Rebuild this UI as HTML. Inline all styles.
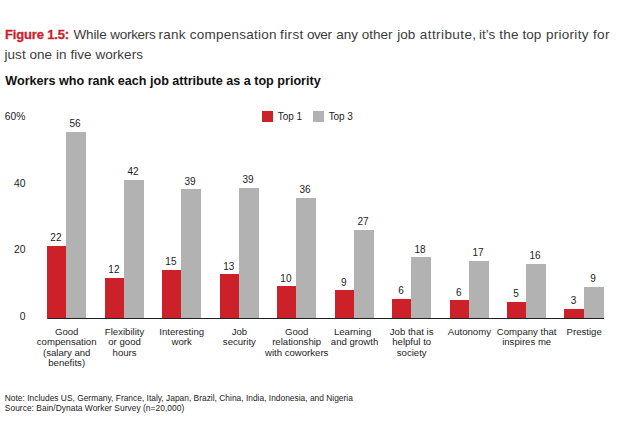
<!DOCTYPE html>
<html><head><meta charset="utf-8"><style>
html,body{margin:0;padding:0;background:#fff}
body{width:620px;height:424px;position:relative;overflow:hidden;font-family:"Liberation Sans",sans-serif;color:#1c1c1c}
div{position:absolute;white-space:nowrap}
.t{left:5px;font-size:13.5px;letter-spacing:0.12px;color:#3b3b3b;line-height:16px}
.t b{color:#cc1f2d;font-size:13px;letter-spacing:-0.16px;-webkit-text-stroke:0.3px #cc1f2d}
.st{left:5.3px;top:73.3px;font-size:12.6px;font-weight:bold;color:#111;line-height:16px}
.y{left:0;width:25.4px;text-align:right;font-size:10.3px;line-height:12px;margin-top:0px}
.v{width:40px;text-align:center;font-size:10px;line-height:12px}
.xl{width:100px;text-align:center;font-size:9.6px;line-height:10.6px;top:326.6px;white-space:nowrap}
.lg{font-size:10px;letter-spacing:-0.08px;line-height:12px;top:110.6px}
.n{left:4.8px;font-size:8.4px;line-height:9.8px;color:#222}
</style></head><body>
<div class="t" style="top:27px"><b>Figure 1.5:</b></div>
<div class="t" style="top:27px;left:73.5px;letter-spacing:-0.137px">While</div>
<div class="t" style="top:27px;left:110.3px;letter-spacing:-0.308px">workers</div>
<div class="t" style="top:27px;left:158.4px;letter-spacing:0.317px">rank</div>
<div class="t" style="top:27px;left:189.8px;letter-spacing:0.25px">compensation</div>
<div class="t" style="top:27px;left:280.05px;letter-spacing:0.375px">first</div>
<div class="t" style="top:27px;left:306.9px;letter-spacing:-0.4px">over</div>
<div class="t" style="top:27px;left:336.2px;letter-spacing:0.0px">any</div>
<div class="t" style="top:27px;left:361.8px;letter-spacing:0.0px">other</div>
<div class="t" style="top:27px;left:397.35px;letter-spacing:-0.025px">job</div>
<div class="t" style="top:27px;left:419.8px;letter-spacing:0.417px">attribute,</div>
<div class="t" style="top:27px;left:479.0px;letter-spacing:0.017px">it’s</div>
<div class="t" style="top:27px;left:499.15px;letter-spacing:0.35px">the</div>
<div class="t" style="top:27px;left:522.55px;letter-spacing:0.0px">top</div>
<div class="t" style="top:27px;left:545.9px;letter-spacing:0.293px">priority</div>
<div class="t" style="top:27px;left:593.05px;letter-spacing:0.325px">for</div>
<div class="t" style="top:46.6px;left:4.5px;letter-spacing:0.05px">just one in five workers</div>
<div class="st">Workers who rank each job attribute as a top priority</div>
<div class="y" style="top:111px">60%</div>
<div class="y" style="top:177.7px">40</div>
<div class="y" style="top:244.3px">20</div>
<div class="y" style="top:311px">0</div>
<div style="left:262.3px;top:111.2px;width:10.8px;height:10.5px;background:#cc2128"></div>
<div class="lg" style="left:277.8px">Top 1</div>
<div style="left:313.3px;top:111.2px;width:10.8px;height:10.5px;background:#b2b2b2"></div>
<div class="lg" style="left:328.7px">Top 3</div>
<div class="b" style="left:47.35px;top:246px;width:18.75px;height:72.50px;background:#cc2128"></div>
<div class="b" style="left:66.10px;top:132px;width:19.95px;height:186.50px;background:#b2b2b2"></div>
<div class="v" style="left:35.92px;top:232.40px">22</div>
<div class="v" style="left:54.97px;top:118.40px">56</div>
<div class="xl" style="left:16.70px">Good<br>compensation<br>(salary and<br>benefits)</div>
<div class="b" style="left:105.20px;top:278px;width:19.00px;height:40.50px;background:#cc2128"></div>
<div class="b" style="left:124.20px;top:180px;width:19.70px;height:138.50px;background:#b2b2b2"></div>
<div class="v" style="left:93.90px;top:264.40px">12</div>
<div class="v" style="left:112.95px;top:166.40px">42</div>
<div class="xl" style="left:74.55px">Flexibility<br>or good<br>hours</div>
<div class="b" style="left:162.35px;top:269.5px;width:18.75px;height:49.00px;background:#cc2128"></div>
<div class="b" style="left:181.10px;top:189.25px;width:19.95px;height:129.25px;background:#b2b2b2"></div>
<div class="v" style="left:150.92px;top:255.90px">15</div>
<div class="v" style="left:169.97px;top:175.65px">39</div>
<div class="xl" style="left:131.70px">Interesting<br>work</div>
<div class="b" style="left:219.85px;top:274.25px;width:19.35px;height:44.25px;background:#cc2128"></div>
<div class="b" style="left:239.20px;top:188px;width:19.70px;height:130.50px;background:#b2b2b2"></div>
<div class="v" style="left:208.72px;top:260.65px">13</div>
<div class="v" style="left:227.95px;top:174.40px">39</div>
<div class="xl" style="left:189.38px">Job<br>security</div>
<div class="b" style="left:277.35px;top:286.25px;width:18.75px;height:32.25px;background:#cc2128"></div>
<div class="b" style="left:296.10px;top:198px;width:19.95px;height:120.50px;background:#b2b2b2"></div>
<div class="v" style="left:265.93px;top:272.65px">10</div>
<div class="v" style="left:284.98px;top:184.40px">36</div>
<div class="xl" style="left:246.70px">Good<br>relationship<br>with coworkers</div>
<div class="b" style="left:335.20px;top:290.25px;width:19.00px;height:28.25px;background:#cc2128"></div>
<div class="b" style="left:354.20px;top:229.5px;width:19.70px;height:89.00px;background:#b2b2b2"></div>
<div class="v" style="left:323.90px;top:276.65px">9</div>
<div class="v" style="left:342.95px;top:215.90px">27</div>
<div class="xl" style="left:304.55px"><span style='position:relative;left:-2px'>Learning</span><br>and growth</div>
<div class="b" style="left:392.35px;top:299px;width:18.75px;height:19.50px;background:#cc2128"></div>
<div class="b" style="left:411.10px;top:257.25px;width:19.95px;height:61.25px;background:#b2b2b2"></div>
<div class="v" style="left:380.93px;top:285.40px">6</div>
<div class="v" style="left:399.98px;top:243.65px">18</div>
<div class="xl" style="left:361.70px">Job that is<br>helpful to<br>society</div>
<div class="b" style="left:449.85px;top:300.25px;width:19.35px;height:18.25px;background:#cc2128"></div>
<div class="b" style="left:469.20px;top:261px;width:19.70px;height:57.50px;background:#b2b2b2"></div>
<div class="v" style="left:438.72px;top:286.65px">6</div>
<div class="v" style="left:457.95px;top:247.40px">17</div>
<div class="xl" style="left:419.38px">Autonomy</div>
<div class="b" style="left:507.35px;top:302px;width:18.75px;height:16.50px;background:#cc2128"></div>
<div class="b" style="left:526.10px;top:264px;width:19.95px;height:54.50px;background:#b2b2b2"></div>
<div class="v" style="left:495.93px;top:288.40px">5</div>
<div class="v" style="left:514.98px;top:250.40px">16</div>
<div class="xl" style="left:476.70px">Company that<br>inspires me</div>
<div class="b" style="left:564.25px;top:309px;width:19.95px;height:9.50px;background:#cc2128"></div>
<div class="b" style="left:584.20px;top:287px;width:19.90px;height:31.50px;background:#b2b2b2"></div>
<div class="v" style="left:553.43px;top:295.40px">3</div>
<div class="v" style="left:573.05px;top:273.40px">9</div>
<div class="xl" style="left:534.17px">Prestige</div>
<div style="left:47.5px;top:318px;width:556.5px;height:1.2px;background:#222"></div>
<div class="n" style="top:394.2px;letter-spacing:0.012px">Note: Includes US, Germany, France, Italy, Japan, Brazil, China, India, Indonesia, and Nigeria</div>
<div class="n" style="top:404px;letter-spacing:0.045px">Source: Bain/Dynata Worker Survey (n=20,000)</div>
</body></html>
